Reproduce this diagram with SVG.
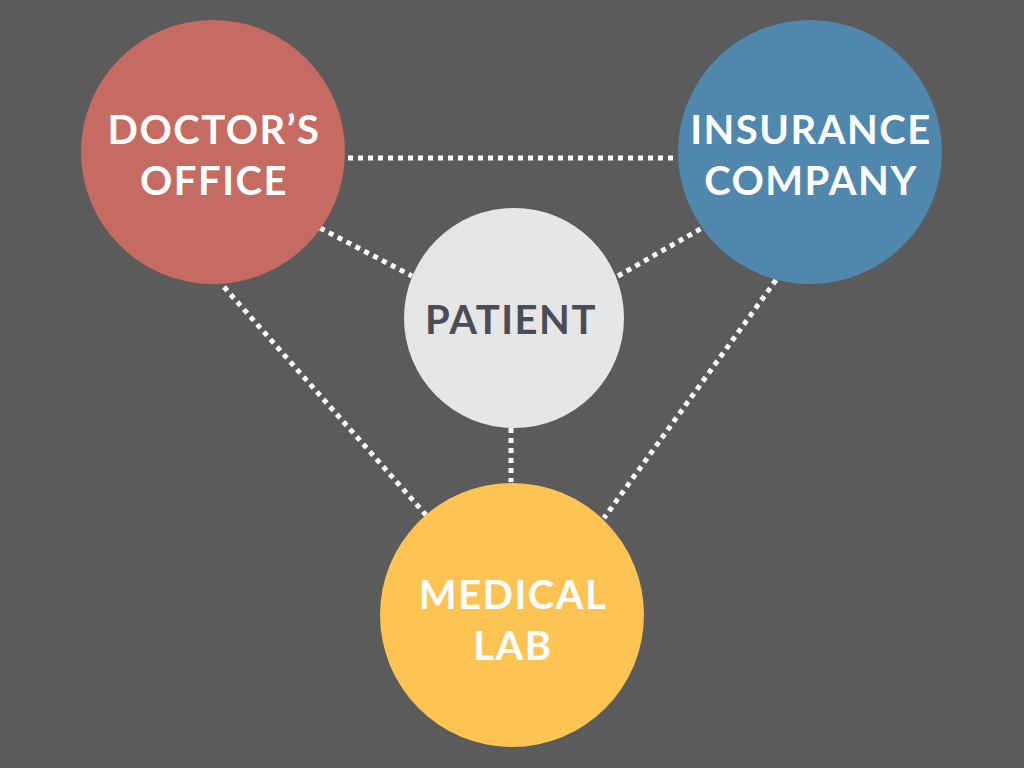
<svg xmlns="http://www.w3.org/2000/svg" width="1024" height="768" viewBox="0 0 1024 768">
<style>
.lbl{font-family:Lato,"Open Sans","Liberation Sans",sans-serif;font-weight:700;font-size:40px;letter-spacing:1.5px;text-anchor:middle;fill:#ffffff}
.dark{fill:#4a4d55}
.con{stroke:#ffffff;stroke-width:5;stroke-dasharray:5 5;fill:none}
</style>
<rect width="1024" height="768" fill="#5b5b5b"/>
<g id="connectors">
<line class="con" x1="348" y1="158" x2="678" y2="158"/>
<line class="con" x1="320" y1="228" x2="412" y2="276"/>
<line class="con" x1="618" y1="276" x2="702" y2="228"/>
<line class="con" x1="224" y1="287" x2="426" y2="515"/>
<line class="con" x1="776" y1="280" x2="604" y2="518"/>
<line class="con" x1="511" y1="428" x2="511" y2="482"/>
</g>
<g id="doctor">
<circle cx="213" cy="152" r="132" fill="#c56b61"/>
<text class="lbl" x="214" y="144">DOCTOR’S</text>
<text class="lbl" x="214" y="195">OFFICE</text>
</g>
<g id="insurance">
<circle cx="810" cy="152" r="132" fill="#4f87ad"/>
<text class="lbl" x="811" y="144">INSURANCE</text>
<text class="lbl" x="811" y="195">COMPANY</text>
</g>
<g id="patient">
<circle cx="514" cy="318" r="110" fill="#e6e6e6"/>
<text class="lbl dark" x="511" y="334">PATIENT</text>
</g>
<g id="lab">
<circle cx="512" cy="615" r="132" fill="#fdc454"/>
<text class="lbl" x="513" y="609">MEDICAL</text>
<text class="lbl" x="513" y="660">LAB</text>
</g>
</svg>
